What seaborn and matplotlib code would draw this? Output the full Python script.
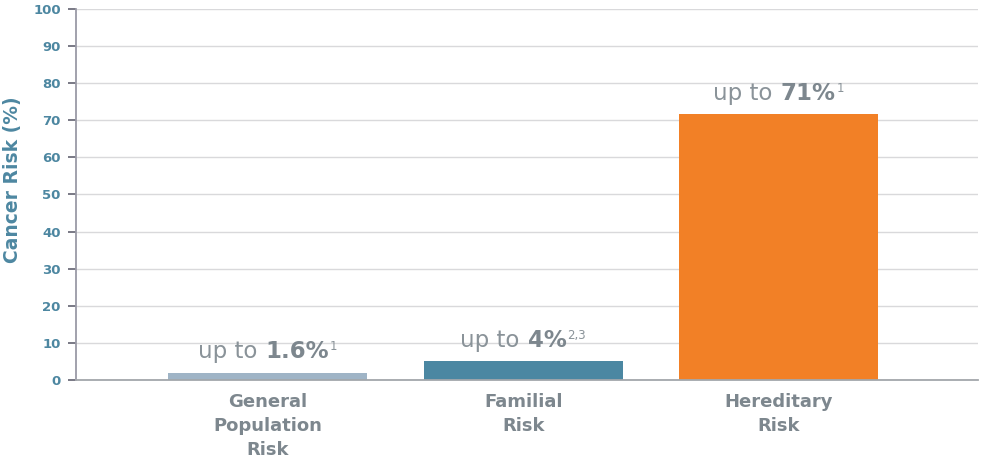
import matplotlib
matplotlib.use("Agg")
import matplotlib.pyplot as plt
import seaborn as sns
import pandas as pd
from matplotlib.offsetbox import TextArea, HPacker, AnnotationBbox

categories = ["General\nPopulation\nRisk", "Familial\nRisk", "Hereditary\nRisk"]
values = [2.0, 5.0, 71.6]
label_values = ["1.6%", "4%", "71%"]
label_refs = ["1", "2,3", "1"]
colors = ["#9fb4c6", "#4b87a2", "#f28026"]
yticks = list(range(0, 101, 10))

sns.set_theme(style="white")
plt.rcParams["font.family"] = ["DejaVu Sans"]

TEAL = "#4d87a1"
GRAY = "#7d878e"

fig = plt.figure(figsize=(9.81, 4.61), dpi=100)
ax = fig.add_axes([0.0775, 0.1757, 0.9195, 0.8048])

df = pd.DataFrame({"cat": categories, "val": values})
sns.barplot(data=df, x="cat", y="val", hue="cat", palette=colors, legend=False,
            width=0.78, ax=ax, saturation=1, linewidth=0)

ax.set_ylim(0, 100)
ax.set_xlim(-0.75, 2.78)
ax.set_yticks(yticks)
ax.set_yticklabels([str(t) for t in yticks], fontsize=9.5, fontweight="bold", color=TEAL)
ax.yaxis.grid(True, color="#d9d9db", linewidth=1)
ax.set_axisbelow(True)
ax.tick_params(axis="y", length=6, width=1.3, color="#6e6e7c", pad=5, left=True)
ax.tick_params(axis="x", length=0, pad=9)
for lab in ax.get_xticklabels():
    lab.set_fontsize(13)
    lab.set_fontweight("bold")
    lab.set_color(GRAY)
    lab.set_linespacing(1.45)
ax.set_xlabel("")
ax.set_ylabel("Cancer Risk (%)", fontsize=13.5, fontweight="bold", color=TEAL)
ax.yaxis.set_label_coords(-0.060, 0.54)

for s in ["top", "right"]:
    ax.spines[s].set_visible(False)
ax.spines["left"].set_color("#9a9aa6")
ax.spines["left"].set_linewidth(1.3)
ax.spines["bottom"].set_color("#a3a7ab")
ax.spines["bottom"].set_linewidth(1.3)

for i, (v, lv, ref) in enumerate(zip(values, label_values, label_refs)):
    t1 = TextArea("up to", textprops=dict(fontsize=16.5, color="#8a9399"))
    t2 = TextArea(lv, textprops=dict(fontsize=16.5, color=GRAY, fontweight="bold"))
    t3 = TextArea(ref, textprops=dict(fontsize=8.5, color="#8a9399"))
    inner = HPacker(children=[t1, t2], sep=6, pad=0, align="baseline")
    pack = HPacker(children=[inner, t3], sep=0.5, pad=0, align="top")
    ab = AnnotationBbox(pack, (i, v), xybox=(0, 7), xycoords="data",
                        boxcoords="offset points", box_alignment=(0.5, 0),
                        frameon=False, pad=0)
    ax.add_artist(ab)

fig.savefig("out.png", dpi=100)
